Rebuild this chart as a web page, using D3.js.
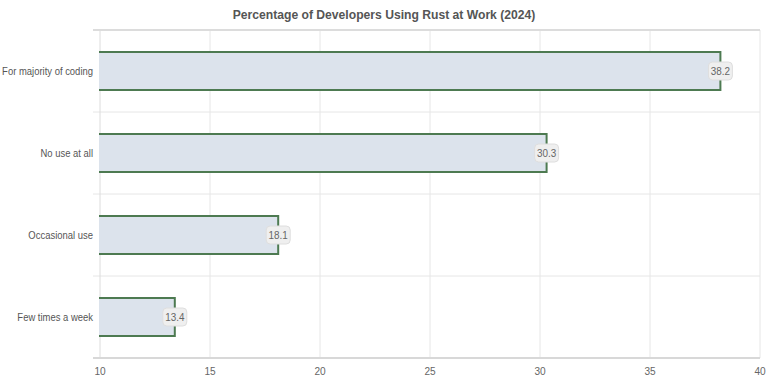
<!DOCTYPE html>
<html><head><meta charset="utf-8">
<script src="https://cdn.jsdelivr.net/npm/d3@7"></script>
<style>
html,body{margin:0;padding:0;background:#fff;}
text{font-family:"Liberation Sans",Arial,sans-serif;}
</style></head>
<body><svg id="c" width="768" height="382"></svg>
<script>
const title = "Percentage of Developers Using Rust at Work (2024)";
const categories = ["For majority of coding","No use at all","Occasional use","Few times a week"];
const values = [38.2, 30.3, 18.1, 13.4];
const xTicks = [10,15,20,25,30,35,40];

const svg = d3.select("#c");
const m = {l:100, r:8, t:30, b:24};
const W = 768, H = 382;
const x = d3.scaleLinear().domain([10,40]).range([m.l, W-m.r]);
const y = d3.scaleBand().domain(categories).range([m.t, H-m.b]).paddingInner(0).paddingOuter(0);

svg.append("text").attr("transform","translate(384,19) scale(0.9,1)").attr("text-anchor","middle")
  .attr("font-size",13.5).attr("font-weight","bold").attr("fill","#555").text(title);

svg.append("g").selectAll("line").data(xTicks.slice(1)).join("line")
  .attr("x1",d=>x(d)).attr("x2",d=>x(d)).attr("y1",m.t).attr("y2",H-m.b)
  .attr("stroke","#e6e6e6").attr("stroke-width",1);

const bounds = categories.map(c=>y(c)).concat([H-m.b]);
svg.append("g").selectAll("line").data(bounds.slice(1,-1)).join("line")
  .attr("x1",m.l-7).attr("x2",W-m.r).attr("y1",d=>d).attr("y2",d=>d)
  .attr("stroke","#e6e6e6").attr("stroke-width",1);
svg.append("line").attr("x1",m.l-7).attr("x2",W-m.r).attr("y1",m.t).attr("y2",m.t)
  .attr("stroke","#dcdcdc").attr("stroke-width",2);
svg.append("line").attr("x1",m.l).attr("x2",m.l).attr("y1",m.t).attr("y2",H-m.b)
  .attr("stroke","#dcdcdc").attr("stroke-width",1);
svg.append("line").attr("x1",m.l-7).attr("x2",W-m.r).attr("y1",H-m.b).attr("y2",H-m.b)
  .attr("stroke","#d8d8d8").attr("stroke-width",2);

svg.append("g").selectAll("text").data(xTicks).join("text")
  .attr("transform",d=>`translate(${x(d)},${H-m.b+17}) scale(0.92,1)`).attr("text-anchor","middle")
  .attr("font-size",11).attr("fill","#666").text(d=>d);

svg.append("g").selectAll("text").data(categories).join("text")
  .attr("transform",d=>`translate(${m.l-7},${y(d)+y.bandwidth()/2+4}) scale(0.86,1)`).attr("text-anchor","end")
  .attr("font-size",11).attr("fill","#555").text(d=>d);

const bh = 38;
svg.append("g").selectAll("rect").data(values).join("rect")
  .attr("x",x(10)).attr("y",(d,i)=>y(categories[i])+y.bandwidth()/2-bh/2)
  .attr("width",d=>x(d)-x(10)).attr("height",bh)
  .attr("fill","#dce3ec").attr("stroke","#4d7a51").attr("stroke-width",2);
svg.append("g").selectAll("rect").data(values).join("rect")
  .attr("x",x(10)-1).attr("y",(d,i)=>y(categories[i])+y.bandwidth()/2-bh/2+1)
  .attr("width",2).attr("height",bh-2).attr("fill","#dce3ec");

const lg = svg.append("g").selectAll("g").data(values).join("g")
  .attr("transform",(d,i)=>`translate(${x(d)},${y(categories[i])+y.bandwidth()/2})`);
lg.append("rect").attr("x",-12).attr("y",-9).attr("width",24).attr("height",18).attr("rx",4)
  .attr("fill","#efefef").attr("stroke","#dedede").attr("stroke-width",1);
lg.append("text").attr("text-anchor","middle").attr("transform","translate(0,4) scale(0.9,1)").attr("font-size",11)
  .attr("fill","#666").text(d=>d.toFixed(1));
</script></body></html>
